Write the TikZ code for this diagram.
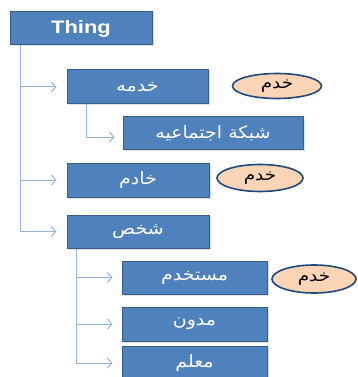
\documentclass[tikz,border=0pt]{standalone}
\usepackage{fontspec}
\setmainfont{Liberation Sans}
\newfontfamily\arabicfont[Script=Arabic]{DejaVu Sans}
\TeXXeTstate=1
\usetikzlibrary{arrows.meta,shadows,shapes.geometric}
\definecolor{boxfill}{HTML}{4F81BD}
\definecolor{boxline}{HTML}{385D8A}
\definecolor{ellfill}{HTML}{FBD5B5}
\definecolor{ellline}{HTML}{1F497D}
\definecolor{connc}{HTML}{95B3D7}
\tikzset{
  classbox/.style={draw=boxline, line width=1pt, fill=boxfill, text=white, inner sep=0pt,
    drop shadow={shadow xshift=1.5pt, shadow yshift=-1.5pt, opacity=0.25}},
  ell/.style={ellipse, draw=ellline, line width=1.6pt, fill=ellfill, inner sep=0pt},
  conn/.style={draw=connc, line width=1pt, -{Straight Barb[length=4.5pt,width=10pt]}},
}
\newcommand{\ar}[1]{\scalebox{1.12}[1]{\arabicfont\fontsize{17}{19}\selectfont\beginR #1\endR}}
\newcommand{\arl}[1]{\scalebox{1.15}[1]{\arabicfont\fontsize{16}{18}\selectfont\beginR #1\endR}}
\begin{document}
\begin{tikzpicture}[x=1pt,y=-1pt]
\useasboundingbox (0,0) rectangle (357,377);
\clip (0,0) rectangle (357,377);
\fill[white] (0,0) rectangle (357,377);
\node[classbox, minimum width=142pt, minimum height=33pt] (thing) at (81,28.5) {\scalebox{1.22}[1]{\fontsize{18}{20}\selectfont\bfseries Thing}};
\node[classbox, minimum width=141pt, minimum height=34pt] (khidma) at (137.5,87) {\ar{خدمه}};
\node[classbox, minimum width=180pt, minimum height=32pt] (shabaka) at (213,133) {\ar{شبكة اجتماعيه}};
\node[classbox, minimum width=142pt, minimum height=34pt] (khadim) at (138,180) {\ar{خادم}};
\node[classbox, minimum width=142pt, minimum height=33pt] (shakhs) at (138,231.5) {\ar{شخص}};
\node[classbox, minimum width=145pt, minimum height=33pt] (mustakhdim) at (194.5,277.5) {\ar{مستخدم}};
\node[classbox, minimum width=145pt, minimum height=34pt] (mudawwin) at (194.5,324) {\ar{مدون}};
\node[classbox, minimum width=145pt, minimum height=34pt] (muallim) at (194.5,363) {\ar{معلم}};
\node[ell, minimum width=89pt, minimum height=25pt] (e1) at (277,86) {\arl{خدم}};
\node[ell, minimum width=86pt, minimum height=27pt] (e2) at (260,178) {\arl{خدم}};
\node[ell, minimum width=84pt, minimum height=28pt] (e3) at (314,279) {\arl{خدم}};
\coordinate (t0) at ([xshift=11pt]thing.south west);
\coordinate (k0) at ([xshift=20pt]khidma.south west);
\coordinate (s0) at ([xshift=10pt]shakhs.south west);
\draw[conn, shorten >=10pt] (t0) |- (khidma.west);
\draw[conn, shorten >=10pt] (t0) |- (khadim.west);
\draw[conn, shorten >=10pt] (t0) |- (shakhs.west);
\draw[conn, shorten >=8pt] (k0) |- ([yshift=-4pt]shabaka.west);
\draw[conn, shorten >=9pt] (s0) |- (mustakhdim.west);
\draw[conn, shorten >=9pt] (s0) |- (mudawwin.west);
\draw[conn, shorten >=9pt] (s0) |- (muallim.west);
\end{tikzpicture}
\end{document}
